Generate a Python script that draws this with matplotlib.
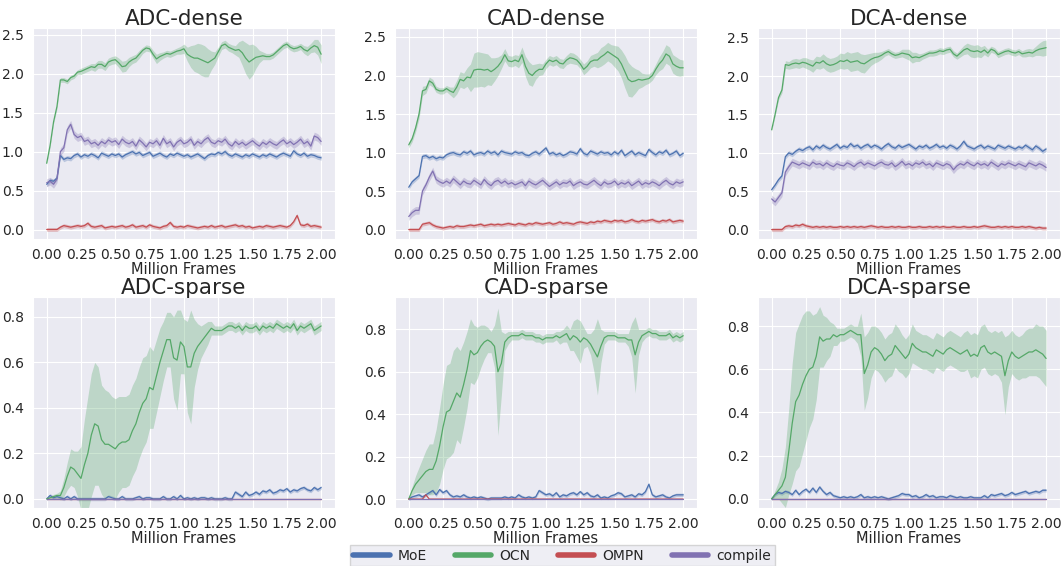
import numpy as np
import matplotlib
matplotlib.use("Agg")
import matplotlib.pyplot as plt
import seaborn as sns

# x axis: million frames, one reading every 0.025
frames = np.linspace(0.0, 2.0, 81)

methods = ["MoE", "OCN", "OMPN", "compile"]
colors = {"MoE": "#4C72B0", "OCN": "#55A868", "OMPN": "#C44E52", "compile": "#8172B2"}

# ---------------- ADC-dense ----------------
adc_dense_moe = [0.58, 0.63, 0.62, 0.66, 0.95, 0.90, 0.92, 0.91, 0.95, 0.97,
                 0.93, 0.96, 0.94, 0.97, 0.95, 0.92, 0.98, 0.96, 0.94, 0.97,
                 0.95, 0.97, 0.93, 0.96, 0.98, 1.00, 0.97, 0.99, 0.95, 0.97,
                 0.99, 0.94, 0.96, 0.98, 0.95, 0.93, 0.97, 0.95, 0.98, 0.96,
                 0.94, 0.96, 0.93, 0.95, 0.97, 0.94, 0.91, 0.95, 0.97, 0.96,
                 0.99, 0.97, 1.00, 0.96, 0.94, 0.97, 0.95, 0.93, 0.96, 0.94,
                 0.97, 0.95, 0.93, 0.96, 0.94, 0.97, 0.95, 0.93, 0.96, 0.98,
                 0.96, 0.94, 1.01, 0.97, 0.95, 0.98, 0.94, 0.96, 0.95, 0.93, 0.92]
adc_dense_ocn = [0.85, 1.08, 1.38, 1.58, 1.92, 1.92, 1.90, 1.95, 1.97, 2.02,
                 2.03, 2.05, 2.07, 2.09, 2.08, 2.12, 2.12, 2.09, 2.15, 2.17,
                 2.18, 2.14, 2.09, 2.10, 2.15, 2.18, 2.20, 2.25, 2.30, 2.33,
                 2.32, 2.25, 2.19, 2.22, 2.24, 2.26, 2.25, 2.27, 2.29, 2.30,
                 2.32, 2.25, 2.22, 2.20, 2.20, 2.18, 2.16, 2.14, 2.17, 2.20,
                 2.28, 2.36, 2.38, 2.34, 2.32, 2.30, 2.31, 2.27, 2.20, 2.15,
                 2.18, 2.21, 2.22, 2.23, 2.22, 2.22, 2.24, 2.28, 2.32, 2.36,
                 2.38, 2.34, 2.32, 2.33, 2.35, 2.31, 2.29, 2.33, 2.36, 2.34, 2.25]
adc_dense_ocn_sd = [0.02, 0.02, 0.02, 0.03, 0.03, 0.03, 0.03, 0.03, 0.03, 0.03,
                    0.04, 0.04, 0.04, 0.04, 0.05, 0.05, 0.05, 0.05, 0.05, 0.05,
                    0.05, 0.06, 0.07, 0.07, 0.06, 0.05, 0.05, 0.05, 0.04, 0.04,
                    0.04, 0.05, 0.06, 0.05, 0.04, 0.04, 0.04, 0.04, 0.04, 0.05,
                    0.06, 0.09, 0.14, 0.17, 0.19, 0.20, 0.20, 0.18, 0.12, 0.08,
                    0.06, 0.05, 0.05, 0.05, 0.05, 0.06, 0.10, 0.16, 0.20, 0.22,
                    0.20, 0.14, 0.08, 0.05, 0.04, 0.04, 0.04, 0.04, 0.04, 0.04,
                    0.04, 0.04, 0.04, 0.04, 0.04, 0.05, 0.06, 0.06, 0.08, 0.10, 0.12]
adc_dense_ompn = [0.00, 0.00, 0.00, 0.00, 0.03, 0.05, 0.04, 0.03, 0.04, 0.05,
                  0.04, 0.05, 0.08, 0.04, 0.03, 0.04, 0.05, 0.02, 0.03, 0.04,
                  0.03, 0.04, 0.05, 0.03, 0.04, 0.06, 0.03, 0.04, 0.05, 0.03,
                  0.06, 0.04, 0.03, 0.02, 0.04, 0.05, 0.09, 0.04, 0.03, 0.04,
                  0.03, 0.05, 0.04, 0.03, 0.02, 0.03, 0.04, 0.03, 0.05, 0.03,
                  0.04, 0.05, 0.03, 0.04, 0.05, 0.06, 0.04, 0.05, 0.03, 0.04,
                  0.02, 0.03, 0.04, 0.03, 0.05, 0.04, 0.03, 0.04, 0.05, 0.04,
                  0.03, 0.05, 0.10, 0.18, 0.06, 0.05, 0.07, 0.04, 0.05, 0.04, 0.03]
adc_dense_compile = [0.60, 0.62, 0.58, 0.65, 1.00, 1.05, 1.28, 1.35, 1.22, 1.18,
                     1.20, 1.13, 1.15, 1.10, 1.12, 1.08, 1.13, 1.10, 1.15, 1.12,
                     1.14, 1.09, 1.16, 1.12, 1.10, 1.13, 1.07, 1.15, 1.11, 1.06,
                     1.12, 1.10, 1.14, 1.08, 1.17, 1.10, 1.13, 1.06, 1.12, 1.15,
                     1.10, 1.12, 1.16, 1.08, 1.13, 1.10, 1.15, 1.18, 1.12, 1.10,
                     1.14, 1.12, 1.16, 1.10, 1.07, 1.13, 1.09, 1.12, 1.08, 1.11,
                     1.14, 1.10, 1.07, 1.12, 1.09, 1.13, 1.10, 1.08, 1.12, 1.15,
                     1.10, 1.13, 1.09, 1.12, 1.16, 1.10, 1.13, 1.07, 1.20, 1.18, 1.13]

# ---------------- CAD-dense ----------------
cad_dense_moe = [0.55, 0.62, 0.66, 0.70, 0.95, 0.96, 0.93, 0.95, 0.92, 0.94,
                 0.93, 0.97, 0.99, 1.00, 0.98, 0.97, 1.01, 0.99, 1.02, 0.97,
                 0.99, 1.00, 0.98, 1.02, 0.99, 1.01, 0.97, 1.02, 1.00, 0.99,
                 0.98, 1.01, 0.99, 1.00, 0.97, 0.96, 0.99, 1.01, 0.98, 1.02,
                 1.06, 0.98, 1.00, 0.97, 0.99, 0.96, 0.98, 1.01, 1.00, 0.98,
                 1.05, 0.99, 0.97, 1.02, 1.00, 0.98, 1.01, 0.99, 1.00, 0.97,
                 1.01, 0.98, 1.03, 0.96, 0.99, 1.02, 0.97, 1.00, 0.98, 0.96,
                 1.04, 1.00, 0.97, 1.01, 0.99, 1.03, 0.97, 0.99, 1.02, 0.96, 0.99]
cad_dense_ocn = [1.10, 1.18, 1.32, 1.50, 1.80, 1.82, 1.93, 1.90, 1.82, 1.80,
                 1.80, 1.83, 1.80, 1.78, 1.85, 1.95, 1.93, 1.98, 1.97, 2.07,
                 2.08, 2.08, 2.07, 2.08, 2.05, 2.08, 2.12, 2.18, 2.27, 2.19,
                 2.18, 2.20, 2.18, 2.27, 2.12, 2.03, 2.00, 2.05, 2.08, 2.08,
                 2.15, 2.20, 2.18, 2.20, 2.16, 2.15, 2.20, 2.23, 2.22, 2.20,
                 2.15, 2.08, 2.12, 2.18, 2.20, 2.20, 2.24, 2.27, 2.31, 2.28,
                 2.25, 2.22, 2.15, 2.05, 1.95, 1.92, 1.93, 1.95, 1.94, 1.95,
                 1.96, 2.00, 2.08, 2.15, 2.20, 2.28, 2.25, 2.15, 2.12, 2.10, 2.10]
cad_dense_ocn_sd = [0.04, 0.04, 0.05, 0.06, 0.06, 0.05, 0.05, 0.05, 0.04, 0.04,
                    0.04, 0.04, 0.05, 0.07, 0.09, 0.10, 0.10, 0.12, 0.18, 0.22,
                    0.23, 0.22, 0.22, 0.20, 0.18, 0.15, 0.12, 0.09, 0.08, 0.07,
                    0.07, 0.07, 0.08, 0.10, 0.13, 0.15, 0.14, 0.10, 0.08, 0.07,
                    0.06, 0.06, 0.06, 0.06, 0.06, 0.06, 0.06, 0.07, 0.07, 0.06,
                    0.06, 0.07, 0.07, 0.08, 0.08, 0.10, 0.12, 0.12, 0.12, 0.12,
                    0.14, 0.16, 0.18, 0.21, 0.22, 0.20, 0.16, 0.12, 0.09, 0.07,
                    0.06, 0.06, 0.07, 0.09, 0.11, 0.12, 0.12, 0.12, 0.12, 0.11, 0.10]
cad_dense_ompn = [0.00, 0.00, 0.00, 0.00, 0.07, 0.08, 0.09, 0.06, 0.04, 0.03,
                  0.02, 0.03, 0.04, 0.03, 0.05, 0.04, 0.04, 0.05, 0.06, 0.05,
                  0.06, 0.07, 0.05, 0.06, 0.07, 0.06, 0.07, 0.06, 0.07, 0.08,
                  0.07, 0.06, 0.08, 0.07, 0.06, 0.08, 0.07, 0.09, 0.08, 0.07,
                  0.08, 0.09, 0.07, 0.08, 0.10, 0.08, 0.09, 0.08, 0.07, 0.09,
                  0.10, 0.09, 0.08, 0.10, 0.09, 0.11, 0.10, 0.12, 0.11, 0.10,
                  0.12, 0.11, 0.12, 0.10, 0.11, 0.13, 0.11, 0.10, 0.12, 0.11,
                  0.12, 0.13, 0.11, 0.10, 0.12, 0.11, 0.13, 0.10, 0.11, 0.12, 0.11]
cad_dense_compile = [0.17, 0.22, 0.25, 0.25, 0.50, 0.58, 0.68, 0.76, 0.65, 0.62,
                     0.60, 0.63, 0.60, 0.66, 0.62, 0.58, 0.63, 0.60, 0.59, 0.64,
                     0.61, 0.58, 0.65, 0.60, 0.57, 0.62, 0.64, 0.60, 0.63, 0.59,
                     0.61, 0.58, 0.60, 0.62, 0.57, 0.63, 0.60, 0.58, 0.61, 0.64,
                     0.60, 0.56, 0.59, 0.62, 0.58, 0.61, 0.60, 0.63, 0.57, 0.60,
                     0.62, 0.59, 0.58, 0.61, 0.64, 0.60, 0.57, 0.62, 0.59, 0.60,
                     0.63, 0.58, 0.61, 0.59, 0.62, 0.57, 0.60, 0.63, 0.58, 0.61,
                     0.59, 0.62, 0.60, 0.57, 0.61, 0.64, 0.60, 0.58, 0.62, 0.60, 0.62]

# ---------------- DCA-dense ----------------
dca_dense_moe = [0.52, 0.58, 0.65, 0.70, 0.95, 1.00, 0.98, 1.02, 1.05, 1.03,
                 1.06, 1.08, 1.04, 1.09, 1.06, 1.10, 1.07, 1.05, 1.08, 1.11,
                 1.06, 1.09, 1.07, 1.12, 1.08, 1.10, 1.06, 1.09, 1.11, 1.07,
                 1.10, 1.08, 1.05, 1.09, 1.12, 1.08, 1.06, 1.10, 1.07, 1.09,
                 1.11, 1.08, 1.05, 1.09, 1.07, 1.10, 1.06, 1.08, 1.11, 1.07,
                 1.09, 1.06, 1.10, 1.08, 1.05, 1.09, 1.15, 1.09, 1.07, 1.05,
                 1.08, 1.10, 1.06, 1.09, 1.07, 1.05, 1.10, 1.08, 1.06, 1.09,
                 1.07, 1.05, 1.08, 1.06, 1.10, 1.07, 1.04, 1.09, 1.06, 1.02, 1.05]
dca_dense_ocn = [1.30, 1.50, 1.72, 1.82, 2.15, 2.14, 2.16, 2.17, 2.16, 2.18,
                 2.17, 2.15, 2.13, 2.18, 2.17, 2.20, 2.16, 2.14, 2.15, 2.17,
                 2.20, 2.19, 2.21, 2.18, 2.19, 2.20, 2.17, 2.16, 2.19, 2.22,
                 2.24, 2.25, 2.27, 2.30, 2.32, 2.29, 2.27, 2.28, 2.30, 2.29,
                 2.28, 2.24, 2.25, 2.24, 2.26, 2.28, 2.30, 2.30, 2.31, 2.33,
                 2.32, 2.34, 2.35, 2.29, 2.26, 2.30, 2.34, 2.36, 2.33, 2.32,
                 2.33, 2.31, 2.34, 2.30, 2.35, 2.33, 2.28, 2.30, 2.32, 2.33,
                 2.31, 2.30, 2.32, 2.29, 2.30, 2.31, 2.30, 2.33, 2.35, 2.36, 2.37]
dca_dense_ocn_sd = [0.02, 0.02, 0.03, 0.04, 0.05, 0.05, 0.06, 0.06, 0.06, 0.06,
                    0.07, 0.07, 0.08, 0.08, 0.08, 0.09, 0.09, 0.09, 0.09, 0.09,
                    0.10, 0.10, 0.11, 0.12, 0.12, 0.12, 0.12, 0.12, 0.10, 0.08,
                    0.07, 0.06, 0.05, 0.04, 0.04, 0.04, 0.04, 0.04, 0.05, 0.06,
                    0.07, 0.07, 0.06, 0.05, 0.04, 0.04, 0.04, 0.04, 0.04, 0.04,
                    0.04, 0.04, 0.04, 0.04, 0.04, 0.05, 0.06, 0.07, 0.08, 0.08,
                    0.08, 0.07, 0.06, 0.05, 0.04, 0.04, 0.04, 0.04, 0.04, 0.04,
                    0.04, 0.04, 0.04, 0.04, 0.05, 0.05, 0.05, 0.06, 0.08, 0.10, 0.10]
dca_dense_ompn = [0.00, 0.00, 0.00, 0.00, 0.04, 0.05, 0.04, 0.06, 0.05, 0.07,
                  0.05, 0.04, 0.03, 0.04, 0.03, 0.04, 0.03, 0.04, 0.03, 0.03,
                  0.04, 0.03, 0.04, 0.03, 0.04, 0.03, 0.04, 0.03, 0.04, 0.05,
                  0.04, 0.03, 0.04, 0.03, 0.03, 0.04, 0.03, 0.04, 0.03, 0.03,
                  0.04, 0.03, 0.03, 0.04, 0.03, 0.03, 0.04, 0.03, 0.04, 0.03,
                  0.04, 0.03, 0.03, 0.04, 0.03, 0.03, 0.04, 0.03, 0.03, 0.04,
                  0.03, 0.04, 0.05, 0.04, 0.03, 0.03, 0.04, 0.03, 0.04, 0.03,
                  0.04, 0.03, 0.03, 0.04, 0.03, 0.04, 0.03, 0.02, 0.03, 0.02, 0.02]
dca_dense_compile = [0.40, 0.36, 0.42, 0.48, 0.75, 0.82, 0.88, 0.86, 0.84, 0.87,
                     0.85, 0.83, 0.88, 0.85, 0.86, 0.83, 0.87, 0.84, 0.82, 0.86,
                     0.84, 0.83, 0.87, 0.85, 0.82, 0.86, 0.88, 0.84, 0.87, 0.85,
                     0.83, 0.86, 0.88, 0.85, 0.84, 0.87, 0.82, 0.85, 0.89, 0.84,
                     0.86, 0.83, 0.87, 0.85, 0.88, 0.84, 0.86, 0.82, 0.87, 0.85,
                     0.83, 0.86, 0.84, 0.78, 0.83, 0.86, 0.84, 0.88, 0.85, 0.83,
                     0.87, 0.84, 0.86, 0.83, 0.88, 0.85, 0.82, 0.86, 0.84, 0.87,
                     0.85, 0.83, 0.86, 0.84, 0.82, 0.87, 0.85, 0.83, 0.86, 0.84, 0.81]

# ---------------- ADC-sparse ----------------
adc_sparse_moe = [0.0, 0.015, 0.005, 0.01, 0.005, 0.0, 0.01, 0.0, 0.01, 0.0,
                  0.0, 0.0, 0.0, 0.0, 0.0, 0.0, 0.0, 0.0, 0.01, 0.005,
                  0.0, 0.0, 0.01, 0.0, 0.0, 0.0, 0.005, 0.01, 0.0, 0.005,
                  0.005, 0.0, 0.0, 0.0, 0.01, 0.0, 0.0, 0.01, 0.0, 0.015,
                  0.0, 0.005, 0.0, 0.005, 0.0, 0.005, 0.005, 0.0, 0.005, 0.0,
                  0.0, 0.0, 0.005, 0.0, 0.0, 0.03, 0.02, 0.01, 0.03, 0.015,
                  0.02, 0.03, 0.02, 0.035, 0.03, 0.04, 0.025, 0.03, 0.04, 0.035,
                  0.045, 0.03, 0.04, 0.035, 0.045, 0.05, 0.04, 0.035, 0.05, 0.04, 0.05]
adc_sparse_ocn = [0.0, 0.005, 0.01, 0.015, 0.015, 0.05, 0.10, 0.14, 0.13, 0.11,
                  0.09, 0.15, 0.20, 0.28, 0.33, 0.32, 0.26, 0.24, 0.24, 0.23,
                  0.22, 0.24, 0.25, 0.25, 0.26, 0.30, 0.33, 0.38, 0.42, 0.44,
                  0.49, 0.48, 0.54, 0.60, 0.65, 0.70, 0.70, 0.62, 0.61, 0.69,
                  0.67, 0.58, 0.58, 0.64, 0.67, 0.69, 0.71, 0.73, 0.75, 0.74,
                  0.74, 0.74, 0.75, 0.76, 0.76, 0.75, 0.76, 0.74, 0.76, 0.75,
                  0.75, 0.76, 0.74, 0.76, 0.75, 0.76, 0.75, 0.77, 0.76, 0.75,
                  0.76, 0.75, 0.77, 0.74, 0.76, 0.75, 0.76, 0.77, 0.74, 0.75, 0.76]
adc_sparse_ocn_sd = [0.0, 0.005, 0.01, 0.01, 0.02, 0.04, 0.06, 0.08, 0.08, 0.10,
                     0.14, 0.20, 0.25, 0.27, 0.27, 0.26, 0.24, 0.24, 0.23, 0.22,
                     0.22, 0.21, 0.20, 0.20, 0.20, 0.20, 0.20, 0.20, 0.20, 0.19,
                     0.18, 0.17, 0.16, 0.15, 0.13, 0.12, 0.12, 0.18, 0.22, 0.14,
                     0.12, 0.20, 0.25, 0.15, 0.10, 0.07, 0.06, 0.05, 0.03, 0.02,
                     0.02, 0.02, 0.02, 0.02, 0.02, 0.02, 0.02, 0.02, 0.02, 0.02,
                     0.02, 0.02, 0.02, 0.02, 0.02, 0.02, 0.02, 0.02, 0.02, 0.02,
                     0.02, 0.02, 0.02, 0.02, 0.02, 0.02, 0.02, 0.02, 0.02, 0.02, 0.02]
adc_sparse_ompn = [0.0] * 81
adc_sparse_compile = [0.0] * 81

# ---------------- CAD-sparse ----------------
cad_sparse_moe = [0.0, 0.01, 0.015, 0.02, 0.01, 0.02, 0.03, 0.04, 0.02, 0.045,
                  0.03, 0.04, 0.02, 0.01, 0.015, 0.01, 0.02, 0.01, 0.005, 0.01,
                  0.005, 0.01, 0.005, 0.0, 0.005, 0.005, 0.005, 0.005, 0.01, 0.005,
                  0.01, 0.005, 0.02, 0.01, 0.005, 0.01, 0.005, 0.01, 0.04, 0.03,
                  0.02, 0.025, 0.015, 0.03, 0.01, 0.02, 0.015, 0.025, 0.03, 0.02,
                  0.035, 0.02, 0.03, 0.015, 0.01, 0.02, 0.005, 0.01, 0.005, 0.015,
                  0.02, 0.03, 0.025, 0.01, 0.015, 0.02, 0.01, 0.025, 0.02, 0.035,
                  0.07, 0.02, 0.01, 0.015, 0.02, 0.01, 0.005, 0.015, 0.02, 0.02, 0.02]
cad_sparse_ocn = [0.0, 0.04, 0.07, 0.09, 0.11, 0.13, 0.14, 0.14, 0.18, 0.25,
                  0.34, 0.41, 0.42, 0.46, 0.50, 0.48, 0.54, 0.61, 0.70, 0.68,
                  0.69, 0.72, 0.74, 0.75, 0.74, 0.72, 0.60, 0.64, 0.74, 0.76,
                  0.77, 0.77, 0.77, 0.78, 0.77, 0.77, 0.77, 0.76, 0.76, 0.75,
                  0.76, 0.76, 0.76, 0.77, 0.76, 0.77, 0.78, 0.75, 0.77, 0.76,
                  0.74, 0.76, 0.75, 0.73, 0.70, 0.67, 0.72, 0.76, 0.77, 0.77,
                  0.77, 0.76, 0.76, 0.76, 0.75, 0.75, 0.68, 0.74, 0.77, 0.78,
                  0.79, 0.78, 0.78, 0.77, 0.77, 0.77, 0.78, 0.76, 0.77, 0.76, 0.77]
cad_sparse_ocn_sd = [0.0, 0.02, 0.04, 0.06, 0.08, 0.10, 0.12, 0.12, 0.15, 0.18,
                     0.20, 0.22, 0.22, 0.24, 0.22, 0.22, 0.20, 0.18, 0.15, 0.14,
                     0.12, 0.10, 0.08, 0.06, 0.05, 0.10, 0.30, 0.15, 0.04, 0.03,
                     0.02, 0.02, 0.02, 0.02, 0.02, 0.02, 0.02, 0.02, 0.02, 0.02,
                     0.02, 0.02, 0.02, 0.02, 0.03, 0.03, 0.04, 0.05, 0.07, 0.09,
                     0.10, 0.05, 0.03, 0.05, 0.10, 0.18, 0.08, 0.03, 0.02, 0.02,
                     0.02, 0.02, 0.02, 0.02, 0.03, 0.08, 0.18, 0.06, 0.03, 0.02,
                     0.02, 0.02, 0.02, 0.02, 0.02, 0.02, 0.02, 0.02, 0.02, 0.02, 0.02]
cad_sparse_ompn = [0.0] * 5 + [0.02] + [0.0] * 75
cad_sparse_compile = [0.0] * 81

# ---------------- DCA-sparse ----------------
dca_sparse_moe = [0.0, 0.02, 0.03, 0.025, 0.035, 0.03, 0.02, 0.04, 0.02, 0.035,
                  0.045, 0.03, 0.05, 0.03, 0.055, 0.035, 0.02, 0.03, 0.015, 0.01,
                  0.005, 0.01, 0.005, 0.01, 0.005, 0.01, 0.02, 0.005, 0.01, 0.005,
                  0.01, 0.005, 0.01, 0.005, 0.0, 0.005, 0.01, 0.015, 0.025, 0.02,
                  0.02, 0.01, 0.015, 0.005, 0.01, 0.02, 0.01, 0.015, 0.005, 0.01,
                  0.01, 0.005, 0.015, 0.01, 0.005, 0.01, 0.005, 0.005, 0.01, 0.005,
                  0.005, 0.005, 0.015, 0.005, 0.02, 0.015, 0.02, 0.025, 0.015, 0.02,
                  0.03, 0.02, 0.025, 0.03, 0.035, 0.025, 0.03, 0.035, 0.03, 0.04, 0.04]
dca_sparse_ocn = [0.0, 0.02, 0.04, 0.06, 0.10, 0.22, 0.35, 0.45, 0.48, 0.53,
                  0.57, 0.60, 0.61, 0.66, 0.75, 0.73, 0.74, 0.74, 0.76, 0.75,
                  0.76, 0.76, 0.77, 0.78, 0.77, 0.76, 0.76, 0.58, 0.62, 0.68,
                  0.70, 0.69, 0.67, 0.64, 0.66, 0.67, 0.71, 0.69, 0.67, 0.65,
                  0.67, 0.72, 0.70, 0.69, 0.68, 0.68, 0.67, 0.66, 0.69, 0.68,
                  0.67, 0.69, 0.70, 0.69, 0.68, 0.67, 0.68, 0.69, 0.66, 0.67,
                  0.66, 0.70, 0.71, 0.68, 0.67, 0.68, 0.67, 0.66, 0.57, 0.64,
                  0.68, 0.66, 0.65, 0.66, 0.67, 0.68, 0.68, 0.69, 0.68, 0.67, 0.65]
dca_sparse_ocn_sd = [0.0, 0.02, 0.04, 0.08, 0.14, 0.20, 0.28, 0.32, 0.33, 0.32,
                     0.30, 0.27, 0.24, 0.20, 0.14, 0.12, 0.10, 0.08, 0.05, 0.04,
                     0.03, 0.03, 0.03, 0.03, 0.03, 0.04, 0.10, 0.17, 0.15, 0.12,
                     0.10, 0.10, 0.10, 0.10, 0.10, 0.10, 0.10, 0.10, 0.09, 0.09,
                     0.09, 0.09, 0.08, 0.08, 0.08, 0.08, 0.08, 0.08, 0.08, 0.08,
                     0.08, 0.08, 0.08, 0.08, 0.08, 0.08, 0.09, 0.09, 0.10, 0.10,
                     0.10, 0.10, 0.10, 0.10, 0.10, 0.10, 0.10, 0.12, 0.18, 0.12,
                     0.10, 0.10, 0.10, 0.10, 0.11, 0.11, 0.11, 0.12, 0.12, 0.13, 0.13]
dca_sparse_ompn = [0.0] * 81
dca_sparse_compile = [0.0] * 81

# band half-widths of the flatter curves
small_sd_dense = {"MoE": 0.03, "OMPN": 0.025, "compile": 0.05}
small_sd_sparse = {"MoE": 0.008, "OMPN": 0.0, "compile": 0.0}

panels = [
    ("ADC-dense", {"MoE": adc_dense_moe, "OCN": adc_dense_ocn, "OMPN": adc_dense_ompn,
                   "compile": adc_dense_compile}, adc_dense_ocn_sd, (-0.12, 2.59), "dense"),
    ("CAD-dense", {"MoE": cad_dense_moe, "OCN": cad_dense_ocn, "OMPN": cad_dense_ompn,
                   "compile": cad_dense_compile}, cad_dense_ocn_sd, (-0.12, 2.62), "dense"),
    ("DCA-dense", {"MoE": dca_dense_moe, "OCN": dca_dense_ocn, "OMPN": dca_dense_ompn,
                   "compile": dca_dense_compile}, dca_dense_ocn_sd, (-0.12, 2.63), "dense"),
    ("ADC-sparse", {"MoE": adc_sparse_moe, "OCN": adc_sparse_ocn, "OMPN": adc_sparse_ompn,
                    "compile": adc_sparse_compile}, adc_sparse_ocn_sd, (-0.04, 0.888), "sparse"),
    ("CAD-sparse", {"MoE": cad_sparse_moe, "OCN": cad_sparse_ocn, "OMPN": cad_sparse_ompn,
                    "compile": cad_sparse_compile}, cad_sparse_ocn_sd, (-0.042, 0.953), "sparse"),
    ("DCA-sparse", {"MoE": dca_sparse_moe, "OCN": dca_sparse_ocn, "OMPN": dca_sparse_ompn,
                    "compile": dca_sparse_compile}, dca_sparse_ocn_sd, (-0.042, 0.935), "sparse"),
]


def main():
    sns.set_style("darkgrid")
    plt.rcParams["font.family"] = ["DejaVu Sans"]
    plt.rcParams["text.color"] = ".15"
    plt.rcParams["axes.labelcolor"] = ".15"
    plt.rcParams["xtick.color"] = ".15"
    plt.rcParams["ytick.color"] = ".15"

    fig = plt.figure(figsize=(10.63, 5.66), dpi=100)
    lefts = [0.031, 0.3716, 0.713]
    bottoms = [0.578, 0.1025]
    w, h = 0.284, 0.373

    for k, (title, series, ocn_sd, ylim, kind) in enumerate(panels):
        ax = fig.add_axes([lefts[k % 3], bottoms[k // 3], w, h])
        small = small_sd_dense if kind == "dense" else small_sd_sparse
        for m in methods:
            y = np.array(series[m])
            sd = np.array(ocn_sd) if m == "OCN" else small[m]
            ax.fill_between(frames, y - sd, y + sd, color=colors[m], alpha=0.3, lw=0)
            ax.plot(frames, y, color=colors[m], lw=0.9, label=m)
        ax.set_title(title, fontsize=15.5, pad=2)
        ax.set_xlabel("Million Frames", fontsize=10.5, labelpad=0)
        ax.set_xlim(-0.1, 2.1)
        ax.set_ylim(*ylim)
        ax.set_xticks(np.arange(0, 2.01, 0.25))
        ax.xaxis.set_major_formatter(plt.FormatStrFormatter("%.2f"))
        if kind == "dense":
            ax.set_yticks(np.arange(0, 2.51, 0.5))
        else:
            ax.set_yticks(np.arange(0, 0.81, 0.2))
        ax.yaxis.set_major_formatter(plt.FormatStrFormatter("%.1f"))
        ax.tick_params(axis="x", labelsize=10, pad=3)
        ax.tick_params(axis="y", labelsize=10, pad=3)

    handles = [plt.Line2D([], [], color=colors[m], lw=4, solid_capstyle="round") for m in methods]
    leg = fig.legend(handles, methods, loc="upper center", bbox_to_anchor=(0.529, 0.037),
                     ncol=4, fontsize=10, frameon=True, handlelength=2.6,
                     handletextpad=0.6, columnspacing=2.0, borderpad=0.25,
                     borderaxespad=0.0, fancybox=False)
    leg.get_frame().set_facecolor("#EAEAF2")
    leg.get_frame().set_edgecolor("#CCCCCC")

    fig.savefig("out.png", dpi=100)


if __name__ == "__main__":
    main()
